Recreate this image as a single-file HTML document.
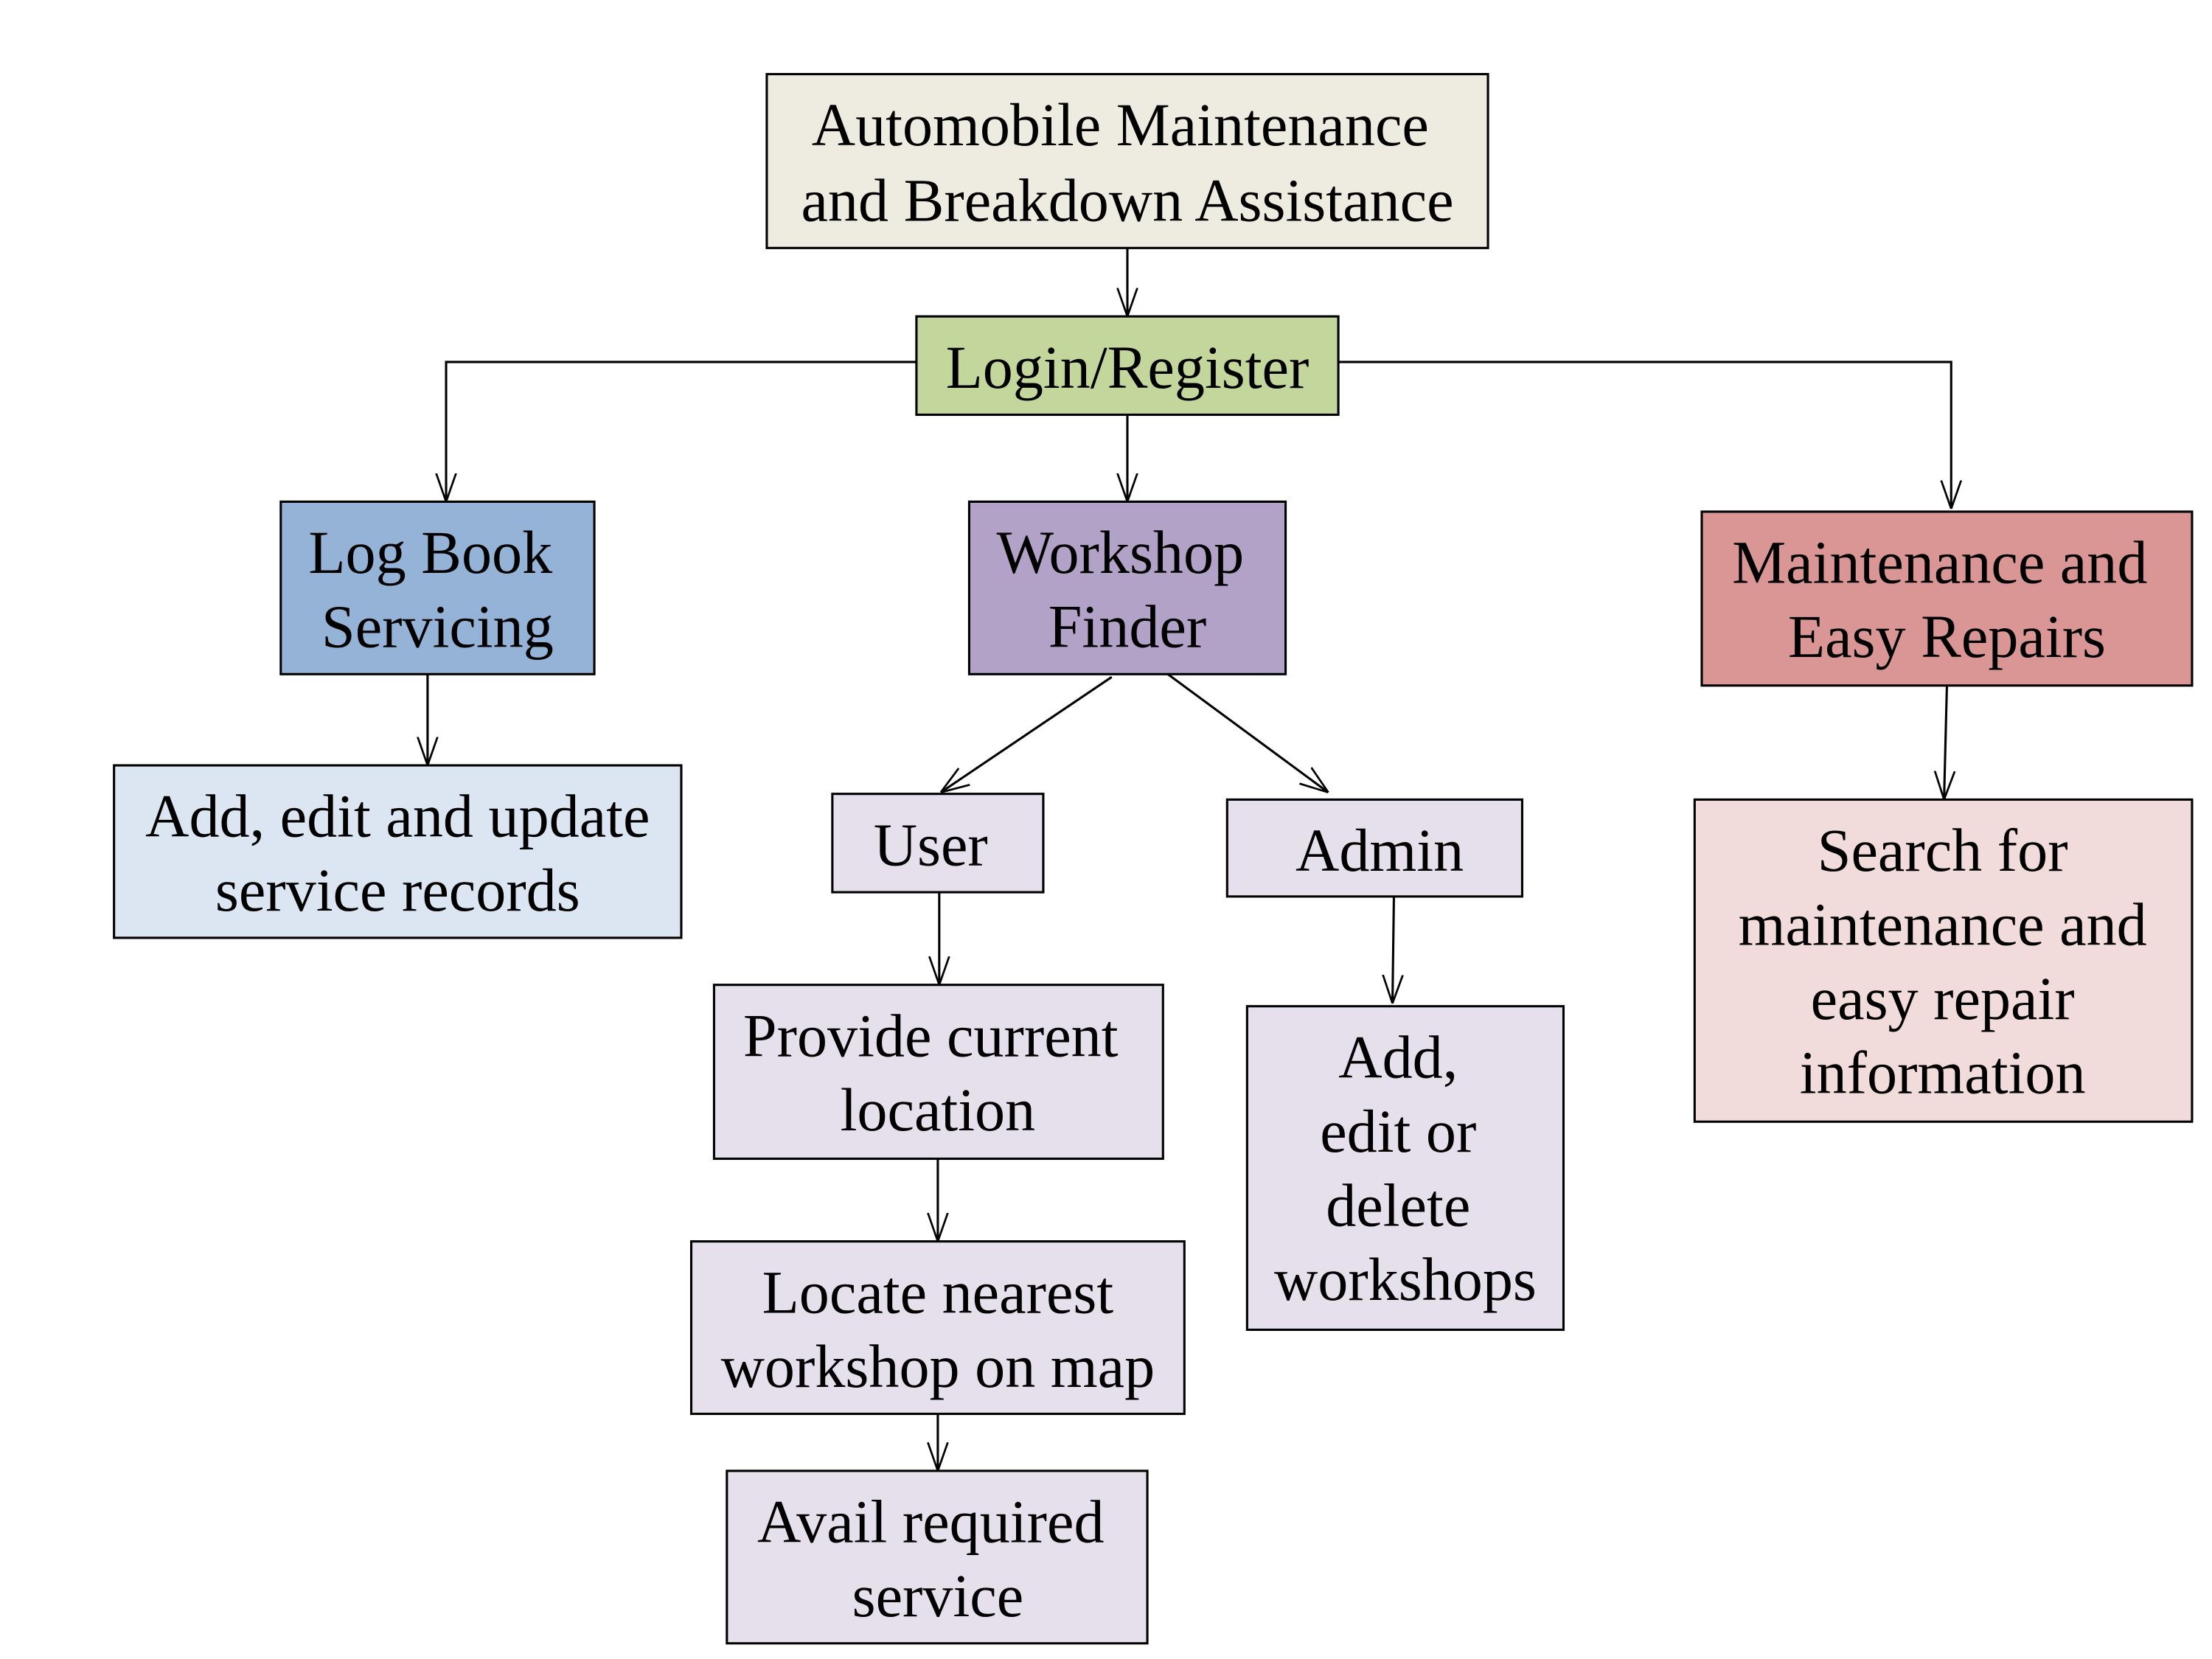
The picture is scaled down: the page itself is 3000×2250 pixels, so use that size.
<!DOCTYPE html>
<html><head><meta charset="utf-8"><style>
html,body{margin:0;padding:0;background:#fff;width:3000px;height:2250px;overflow:hidden}
svg{display:block}
text{font-family:"Liberation Serif",serif;font-size:42.5px;fill:#000;text-anchor:middle}
rect{stroke:#000;stroke-width:1.6}
line,polyline{stroke:#000;stroke-width:1.6;fill:none}
</style></head><body>
<svg width="3000" height="2250" viewBox="0 0 1552 1164" xmlns="http://www.w3.org/2000/svg">
<defs><marker id="a" viewBox="0 0 20 20" refX="20" refY="10" markerWidth="20" markerHeight="20" markerUnits="userSpaceOnUse" orient="auto"><polyline points="0,3 20,10 0,17" style="stroke:#000;stroke-width:1.4;fill:none"/></marker></defs>
<line x1="791" y1="174" x2="791" y2="222" marker-end="url(#a)"/>
<polyline points="643,254 313,254 313,352" marker-end="url(#a)"/>
<polyline points="939,254 1369,254 1369,357" marker-end="url(#a)"/>
<line x1="791" y1="291" x2="791" y2="352" marker-end="url(#a)"/>
<line x1="300" y1="473" x2="300" y2="537" marker-end="url(#a)"/>
<line x1="780" y1="475" x2="660" y2="556" marker-end="url(#a)"/>
<line x1="818" y1="472" x2="932" y2="556" marker-end="url(#a)"/>
<line x1="1366" y1="481" x2="1364" y2="561" marker-end="url(#a)"/>
<line x1="659" y1="626" x2="659" y2="691" marker-end="url(#a)"/>
<line x1="978" y1="629" x2="977" y2="704" marker-end="url(#a)"/>
<line x1="658" y1="813" x2="658" y2="871" marker-end="url(#a)"/>
<line x1="658" y1="992" x2="658" y2="1032" marker-end="url(#a)"/>
<rect x="538" y="52" width="506" height="122" fill="#EEECE1"/>
<text x="786" y="102">Automobile Maintenance</text>
<text x="791" y="155">and Breakdown Assistance</text>
<rect x="643" y="222" width="296" height="69" fill="#C3D69B"/>
<text x="791" y="272">Login/Register</text>
<rect x="197" y="352" width="220" height="121" fill="#95B3D7"/>
<text x="302" y="402">Log Book</text>
<text x="307" y="454">Servicing</text>
<rect x="680" y="352" width="222" height="121" fill="#B2A2C7"/>
<text x="786" y="402">Workshop</text>
<text x="791" y="454">Finder</text>
<rect x="1194" y="359" width="344" height="122" fill="#D99694"/>
<text x="1361" y="409">Maintenance and</text>
<text x="1366" y="461">Easy Repairs</text>
<rect x="80" y="537" width="398" height="121" fill="#DCE6F2"/>
<text x="279" y="587">Add, edit and update</text>
<text x="279" y="639">service records</text>
<rect x="584" y="557" width="148" height="69" fill="#E6E0EC"/>
<text x="653" y="607">User</text>
<rect x="861" y="561" width="207" height="68" fill="#E6E0EC"/>
<text x="968" y="611">Admin</text>
<rect x="1189" y="561" width="349" height="226" fill="#F2DCDB"/>
<text x="1363" y="611">Search for</text>
<text x="1363" y="663">maintenance and</text>
<text x="1363" y="715">easy repair</text>
<text x="1363" y="767">information</text>
<rect x="501" y="691" width="315" height="122" fill="#E6E0EC"/>
<text x="653" y="741">Provide current</text>
<text x="658" y="793">location</text>
<rect x="875" y="706" width="222" height="227" fill="#E6E0EC"/>
<text x="981" y="756">Add,</text>
<text x="981" y="808">edit or</text>
<text x="981" y="860">delete</text>
<text x="986" y="912">workshops</text>
<rect x="485" y="871" width="346" height="121" fill="#E6E0EC"/>
<text x="658" y="921">Locate nearest</text>
<text x="658" y="973">workshop on map</text>
<rect x="510" y="1032" width="295" height="121" fill="#E6E0EC"/>
<text x="653" y="1082">Avail required</text>
<text x="658" y="1134">service</text>
</svg>
</body></html>
